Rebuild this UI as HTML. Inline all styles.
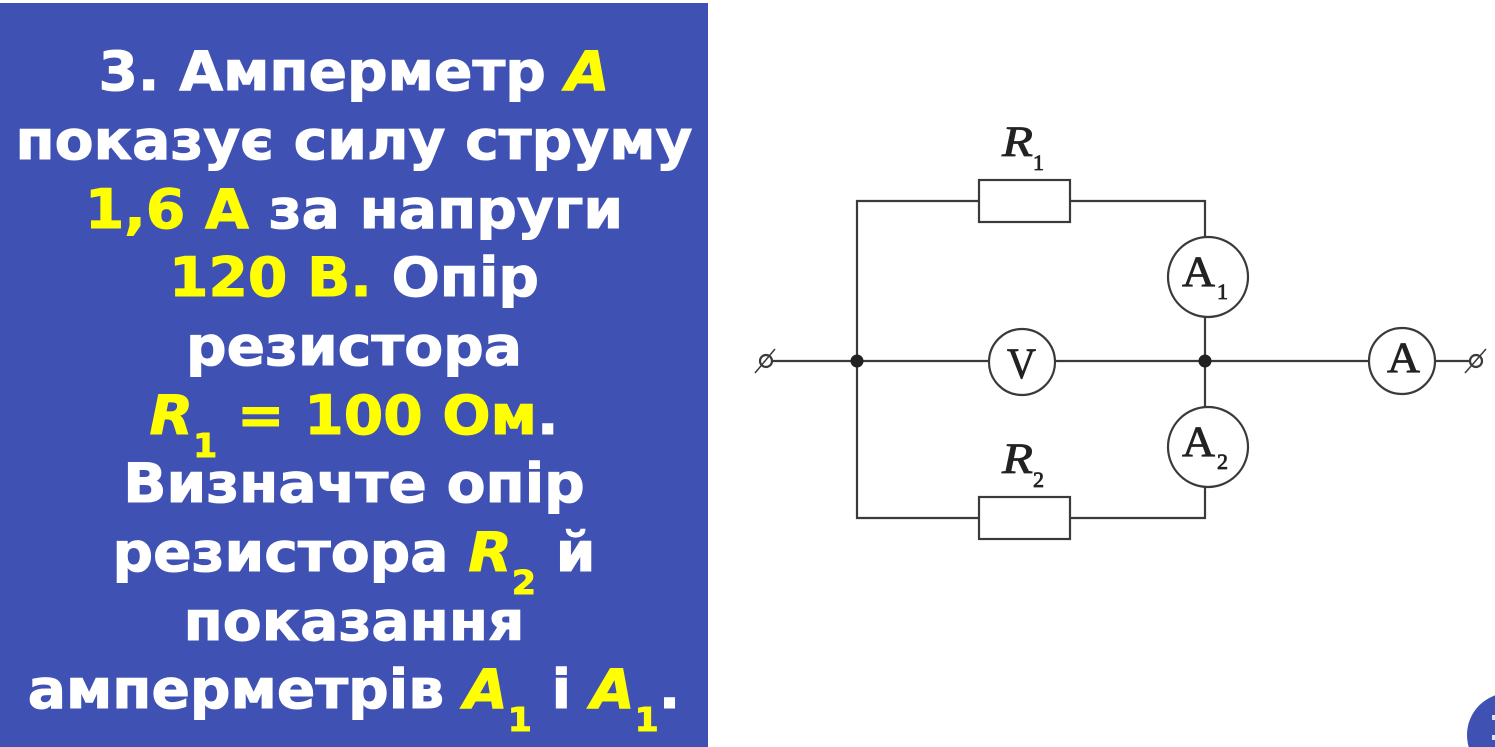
<!DOCTYPE html>
<html lang="uk">
<head>
<meta charset="utf-8">
<style>
html,body{margin:0;padding:0;background:#fff;}
#page{position:relative;width:1495px;height:747px;overflow:hidden;background:#fff;}
#panel{position:absolute;left:0;top:3px;width:708px;height:744px;background:#3f51b2;}
.l{position:absolute;left:0;width:708px;text-align:center;white-space:nowrap;font-family:"DejaVu Sans","Liberation Sans",sans-serif;font-weight:bold;font-size:54px;line-height:60px;color:#fff;transform:scaleX(1.05);transform-origin:354px 0;-webkit-text-stroke:1px currentColor;}
.y{color:#ffff00;}
.i{font-style:italic;}
sub{font-size:33px;line-height:0;vertical-align:-23px;}
svg{position:absolute;left:0;top:0;}
</style>
</head>
<body>
<div id="page">
<div id="panel"></div>
<div class="l" style="top:42px">3. Амперметр <span class="y i">A</span></div>
<div class="l" style="top:111px">показує силу струму</div>
<div class="l" style="top:180px"><span class="y">1,6 А</span> за напруги</div>
<div class="l" style="top:248px"><span class="y">120 В.</span> Опір</div>
<div class="l" style="top:317px">резистора</div>
<div class="l" style="top:386px"><span class="y"><span class="i">R</span><sub>1</sub> = 100 Ом</span>.</div>
<div class="l" style="top:454px">Визначте опір</div>
<div class="l" style="top:523px">резистора <span class="y"><span class="i">R</span><sub>2</sub></span> й</div>
<div class="l" style="top:592px">показання</div>
<div class="l" style="top:660px">амперметрів <span class="y"><span class="i">A</span><sub>1</sub></span> і <span class="y"><span class="i">A</span><sub>1</sub></span>.</div>
<svg width="1495" height="747" viewBox="0 0 1495 747">
<g fill="none" stroke="#3a3a3a" stroke-width="2.2">
<path d="M979 201H857V518H979M1070 201H1205V237M1070 518H1205V487M1205 317V407M772 361H989M1055 361H1369M1435 361H1470"/>
<rect x="979" y="180" width="91" height="42" fill="#fff"/>
<rect x="979" y="497" width="91" height="42" fill="#fff"/>
<circle cx="1022" cy="362" r="33" fill="#fff"/>
<circle cx="1208" cy="277" r="40" fill="#fff"/>
<circle cx="1208" cy="447" r="40" fill="#fff"/>
<circle cx="1402" cy="361" r="33" fill="#fff"/>
<circle cx="766" cy="361" r="6"/>
<circle cx="1476" cy="361" r="6"/>
<path d="M755 373L775 349M1465 373L1486 349" stroke-width="1.5"/>
</g>
<circle cx="857" cy="361" r="6.5" fill="#222"/>
<circle cx="1205" cy="361" r="6.5" fill="#222"/>
<g font-family="'Liberation Serif',serif" fill="#222" stroke="#222" stroke-width="0.8">
<text x="1002" y="156" font-size="43" font-style="italic" textLength="31" lengthAdjust="spacingAndGlyphs">R</text>
<text x="1033" y="170" font-size="22">1</text>
<text x="1002" y="473" font-size="43" font-style="italic" textLength="31" lengthAdjust="spacingAndGlyphs">R</text>
<text x="1033" y="487" font-size="22">2</text>
<text x="1007" y="378" font-size="43" textLength="29" lengthAdjust="spacingAndGlyphs">V</text>
<text x="1182" y="286" font-size="43" textLength="33" lengthAdjust="spacingAndGlyphs">A</text>
<text x="1217" y="299" font-size="22">1</text>
<text x="1182" y="456" font-size="43" textLength="33" lengthAdjust="spacingAndGlyphs">A</text>
<text x="1217" y="469" font-size="22">2</text>
<text x="1387" y="372" font-size="43" textLength="33" lengthAdjust="spacingAndGlyphs">A</text>
</g>
<circle cx="1509" cy="735" r="42" fill="#3f51b2"/>
<rect x="1492" y="715" width="3" height="5" fill="#dfe2f2"/>
<rect x="1492" y="735" width="3" height="5" fill="#dfe2f2"/>
</svg>
</div>
</body>
</html>
